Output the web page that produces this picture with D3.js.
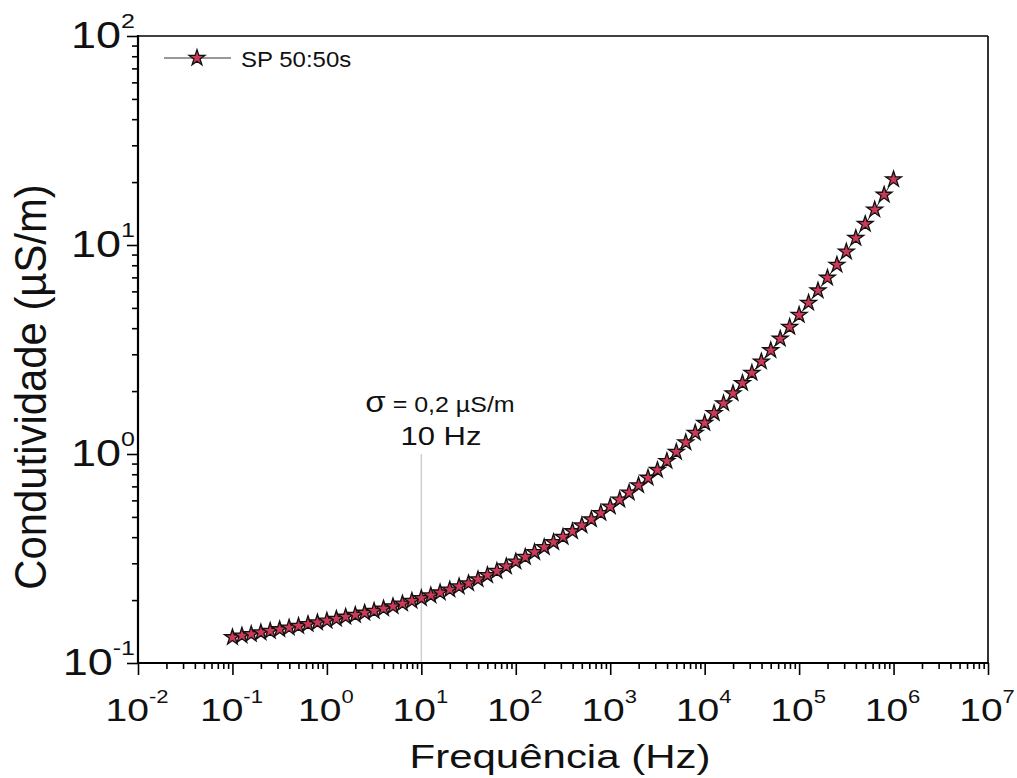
<!DOCTYPE html>
<html><head><meta charset="utf-8">
<script src="https://cdn.jsdelivr.net/npm/d3@7"></script>
<style>body{margin:0;background:#fff}svg{display:block}</style>
</head><body><svg id="c" width="1017" height="778"></svg>
<script>
const freqs = [0.1,0.126,0.158,0.2,0.251,0.316,0.398,0.501,0.631,0.794,
  1,1.26,1.58,2,2.51,3.16,3.98,5.01,6.31,7.94,
  10,12.6,15.8,20,25.1,31.6,39.8,50.1,63.1,79.4,
  100,126,158,200,251,316,398,501,631,794,
  1000,1259,1585,1995,2512,3162,3981,5012,6310,7943,
  10000,12589,15849,19953,25119,31623,39811,50119,63096,79433,
  100000,125893,158489,199526,251189,316228,398107,501187,630957,794328,
  1000000];
const sigma = [0.1327,0.1352,0.1374,0.1400,0.1422,0.1449,0.1476,0.1503,0.1535,0.1563,
  0.1592,0.1626,0.1663,0.1698,0.1738,0.1774,0.1820,0.1866,0.1923,0.1982,
  0.2042,0.2104,0.2173,0.2244,0.2323,0.2404,0.2512,0.2630,0.2754,0.2897,
  0.3055,0.3214,0.3388,0.3581,0.3784,0.4009,0.4266,0.4550,0.4864,0.5212,
  0.5598,0.6039,0.6531,0.7079,0.7691,0.8375,0.9247,1.023,1.135,1.262,
  1.406,1.567,1.746,1.950,2.183,2.443,2.767,3.133,3.556,4.055,
  4.624,5.284,6.053,6.966,8.035,9.290,10.79,12.59,14.76,17.38,
  20.61];
const xTickExps = [-2,-1,0,1,2,3,4,5,6,7];
const yTickExps = [-1,0,1,2];
const seriesName = "SP 50:50s";
const xTitle = "Frequência (Hz)";
const yTitle = "Condutividade (µS/m)";
const markerFreq = 10;
const annotSymbol = "σ";
const annotLines = [" = 0,2 µS/m", "10 Hz"];

const m = {l:138, r:988, t:36, b:663};
const FONT = "'Liberation Sans', Arial, sans-serif";
const SQ = 0.8;
const STAR_FILL = "#cc3a57";

const x = d3.scaleLog().domain([1e-2, 1e7]).range([m.l, m.r]);
const y = d3.scaleLog().domain([1e-1, 1e2]).range([m.b, m.t]);
const svg = d3.select("#c").style("font-family", FONT);

svg.append("rect").attr("width",1017).attr("height",778).attr("fill","#fff");

function minors(e0, e1){ const a=[]; for(let e=e0;e<e1;e++) for(let k=2;k<=9;k++) a.push(k*Math.pow(10,e)); return a; }
const xMajor = xTickExps.map(e=>Math.pow(10,e));
const yMajor = yTickExps.map(e=>Math.pow(10,e));

// vertical marker line at 10 Hz
svg.append("line").attr("x1",x(markerFreq)).attr("x2",x(markerFreq))
  .attr("y1",454).attr("y2",m.b).attr("stroke","#cfcfcf").attr("stroke-width",1.5);

// axes ticks
const gx = svg.append("g").attr("transform",`translate(0,${m.b})`);
gx.call(d3.axisBottom(x).tickValues(minors(-2,7)).tickSize(6).tickFormat(""));
gx.call(g=>g.select(".domain").remove());
const gx2 = svg.append("g").attr("transform",`translate(0,${m.b})`);
gx2.call(d3.axisBottom(x).tickValues(xMajor).tickSize(12).tickFormat(""));
gx2.call(g=>g.select(".domain").remove());
const gy = svg.append("g").attr("transform",`translate(${m.l},0)`);
gy.call(d3.axisLeft(y).tickValues(minors(-1,2)).tickSize(6).tickFormat(""));
gy.call(g=>g.select(".domain").remove());
const gy2 = svg.append("g").attr("transform",`translate(${m.l},0)`);
gy2.call(d3.axisLeft(y).tickValues(yMajor).tickSize(11).tickFormat(""));
gy2.call(g=>g.select(".domain").remove());
svg.selectAll(".tick line").attr("stroke","#000").attr("stroke-width",1.6);

// frame
svg.append("line").attr("x1",m.l).attr("x2",m.r).attr("y1",m.t).attr("y2",m.t).attr("stroke","#000").attr("stroke-width",1.6);
svg.append("line").attr("x1",m.r).attr("x2",m.r).attr("y1",m.t).attr("y2",m.b).attr("stroke","#000").attr("stroke-width",1.6);
svg.append("line").attr("x1",m.l-1).attr("x2",m.r+1).attr("y1",m.b).attr("y2",m.b).attr("stroke","#000").attr("stroke-width",2.2);
svg.append("line").attr("x1",m.l).attr("x2",m.l).attr("y1",m.t-1).attr("y2",m.b+1).attr("stroke","#000").attr("stroke-width",2.2);

// tick labels
function powLabel(px, py, e, anchor, fs, sfs, rise){
  const g = svg.append("g").attr("transform",`translate(${px},${py}) scale(1,${SQ})`);
  const t = g.append("text").attr("text-anchor",anchor).attr("fill","#111").style("font-size",fs+"px");
  t.append("tspan").text("10");
  t.append("tspan").attr("dy",-rise).style("font-size",sfs+"px").text(String(e));
}
xTickExps.forEach(e=>powLabel(x(Math.pow(10,e))-1, 721, e, "middle", 39, 22, 22));
yTickExps.forEach(e=>powLabel(135, y(Math.pow(10,e))+12, e, "end", 45, 25, 25));

// axis titles
svg.append("g").attr("transform",`translate(560,768) scale(1,0.8)`)
  .append("text").attr("text-anchor","middle").attr("fill","#111").style("font-size","42px").text(xTitle);
svg.append("g").attr("transform",`translate(46,387) scale(1,0.93) rotate(-90)`)
  .append("text").attr("text-anchor","middle").attr("fill","#111").style("font-size","45px").text(yTitle);

// data line + stars
const line = d3.line().x((d,i)=>x(freqs[i])).y(d=>y(d));
svg.append("path").datum(sigma).attr("d",line).attr("fill","none").attr("stroke","#222").attr("stroke-width",1);
const star = d3.symbol().type(d3.symbolStar).size(78);
svg.append("g").selectAll("path").data(sigma).join("path")
  .attr("d",star)
  .attr("transform",(d,i)=>`translate(${x(freqs[i])},${y(d)})`)
  .attr("fill",STAR_FILL).attr("stroke","#111").attr("stroke-width",1.3);

// annotation
const a1 = svg.append("g").attr("transform",`translate(440,412) scale(1,0.9)`)
  .append("text").attr("text-anchor","middle").attr("fill","#111").style("font-size","25px");
a1.append("tspan").style("font-size","33px").text(annotSymbol);
a1.append("tspan").text(annotLines[0]);
svg.append("g").attr("transform",`translate(441,445) scale(1,0.85)`)
  .append("text").attr("text-anchor","middle").attr("fill","#111").style("font-size","31px").text(annotLines[1]);

// legend
svg.append("line").attr("x1",164).attr("x2",231).attr("y1",58).attr("y2",58).attr("stroke","#333").attr("stroke-width",1);
svg.append("path").attr("d",star).attr("transform","translate(197,58)").attr("fill",STAR_FILL).attr("stroke","#111").attr("stroke-width",1.3);
svg.append("g").attr("transform",`translate(241,67) scale(1,0.9)`)
  .append("text").attr("fill","#111").style("font-size","24px").text(seriesName);
</script></body></html>
